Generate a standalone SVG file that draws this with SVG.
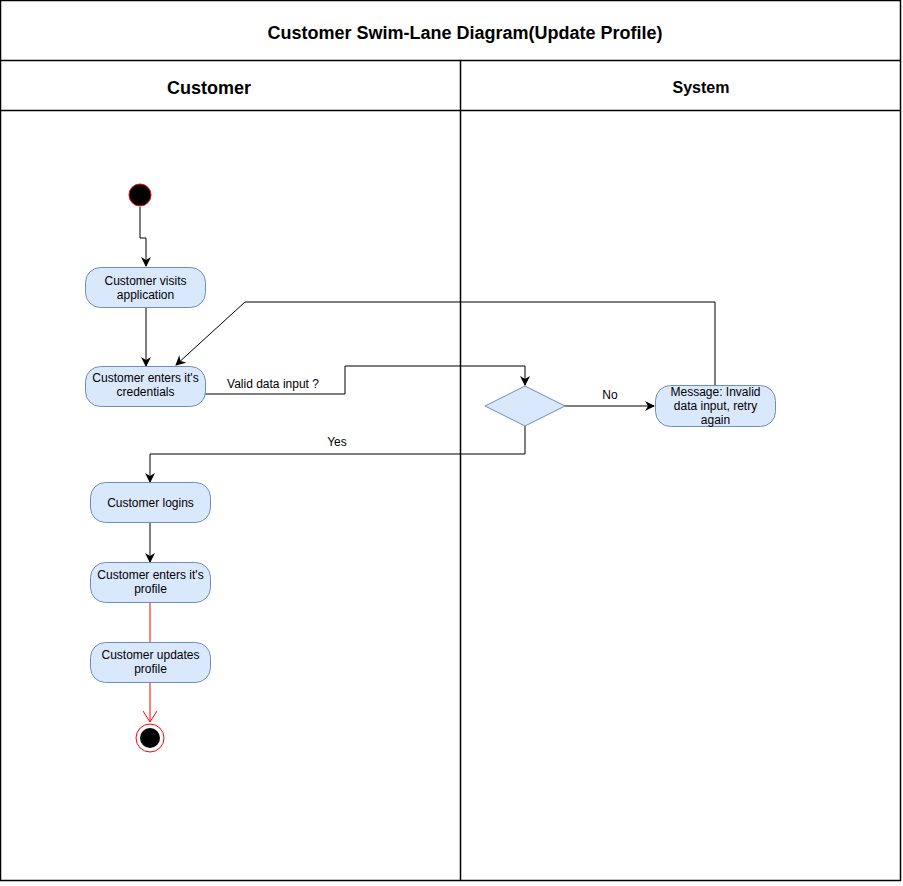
<svg xmlns="http://www.w3.org/2000/svg" width="903" height="886" viewBox="0 0 903 886">
<style>
.lane{fill:none;stroke:#000;stroke-width:1.5}
.node{fill:#dae8fc;stroke:#6c8ebf;stroke-width:1}
.t{font-family:"Liberation Sans",Arial,sans-serif;font-size:12px;fill:#000;text-anchor:middle}
.h{font-family:"Liberation Sans",Arial,sans-serif;font-weight:bold;fill:#000;text-anchor:middle}
.c{fill:none;stroke:#000;stroke-width:1}
.r{fill:none;stroke:#ff0000;stroke-width:1}
</style>
<defs>
<marker id="a" viewBox="0 0 10 10" refX="9" refY="5" markerWidth="10" markerHeight="10" markerUnits="userSpaceOnUse" orient="auto"><path d="M0,0 L10,5 L0,10 L3,5 Z" fill="#000"/></marker>
<marker id="ro" viewBox="0 0 12 14" refX="11" refY="7" markerWidth="12" markerHeight="14" markerUnits="userSpaceOnUse" orient="auto"><path d="M0,0 L11,7 L0,14" fill="none" stroke="#ff0000" stroke-width="1"/></marker>
</defs>
<rect width="903" height="886" fill="#fff"/>
<g id="pool">
<rect class="lane" x="0.5" y="0.5" width="900" height="880"/>
<line class="lane" x1="0.5" y1="60.5" x2="900.5" y2="60.5"/>
<line class="lane" x1="0.5" y1="110.5" x2="900.5" y2="110.5"/>
<line class="lane" x1="460.5" y1="60.5" x2="460.5" y2="880.5"/>
<text class="h" x="465" y="39" font-size="18">Customer Swim-Lane Diagram(Update Profile)</text>
<text class="h" x="209" y="94" font-size="18">Customer</text>
<text class="h" x="701" y="93" font-size="16">System</text>
</g>
<g id="connectors">
<path class="c" d="M140,207 V238 H146 V266" marker-end="url(#a)"/>
<path class="c" d="M146,307 V366" marker-end="url(#a)"/>
<path class="c" d="M205,394 H345 V366 H525 V385" marker-end="url(#a)"/>
<text class="t" x="273" y="388">Valid data input ?</text>
<path class="c" d="M565,406 H654" marker-end="url(#a)"/>
<text class="t" x="610" y="399">No</text>
<path class="c" d="M715,385 V302 H245 L176,365" marker-end="url(#a)"/>
<path class="c" d="M525,426 V454 H150 V482" marker-end="url(#a)"/>
<text class="t" x="337" y="446">Yes</text>
<path class="c" d="M150,522 V562" marker-end="url(#a)"/>
<path class="r" d="M150,602 V642"/>
<path class="r" d="M150,682 V722" marker-end="url(#ro)"/>
</g>
<g id="start"><circle cx="140" cy="195" r="11" fill="#000" stroke="#ff0000" stroke-width="1"/></g>
<g id="visit"><rect class="node" x="85.5" y="267.5" width="120" height="40" rx="15"/><text class="t" x="145.5" y="285">Customer visits</text><text class="t" x="145.5" y="299">application</text></g>
<g id="creds"><rect class="node" x="85.5" y="366.5" width="120" height="40" rx="15"/><text class="t" x="145.5" y="382">Customer enters it's</text><text class="t" x="145.5" y="396">credentials</text></g>
<g id="decision"><path class="node" d="M525,386 L565,406 L525,426 L485,406 Z"/></g>
<g id="msg"><rect class="node" x="655.5" y="385.5" width="120" height="41" rx="15"/><text class="t" x="715.5" y="396">Message: Invalid</text><text class="t" x="715.5" y="410">data input, retry</text><text class="t" x="715.5" y="424">again</text></g>
<g id="logins"><rect class="node" x="90.5" y="482.5" width="120" height="40" rx="15"/><text class="t" x="150.5" y="507">Customer logins</text></g>
<g id="profile"><rect class="node" x="90.5" y="562.5" width="120" height="40" rx="15"/><text class="t" x="150.5" y="579">Customer enters it's</text><text class="t" x="150.5" y="593">profile</text></g>
<g id="update"><rect class="node" x="90.5" y="642.5" width="120" height="40" rx="15"/><text class="t" x="150.5" y="659">Customer updates</text><text class="t" x="150.5" y="673">profile</text></g>
<g id="end"><circle cx="150" cy="738" r="14" fill="#fff" stroke="#ff0000" stroke-width="1"/><circle cx="150" cy="738" r="10" fill="#000"/></g>
</svg>
